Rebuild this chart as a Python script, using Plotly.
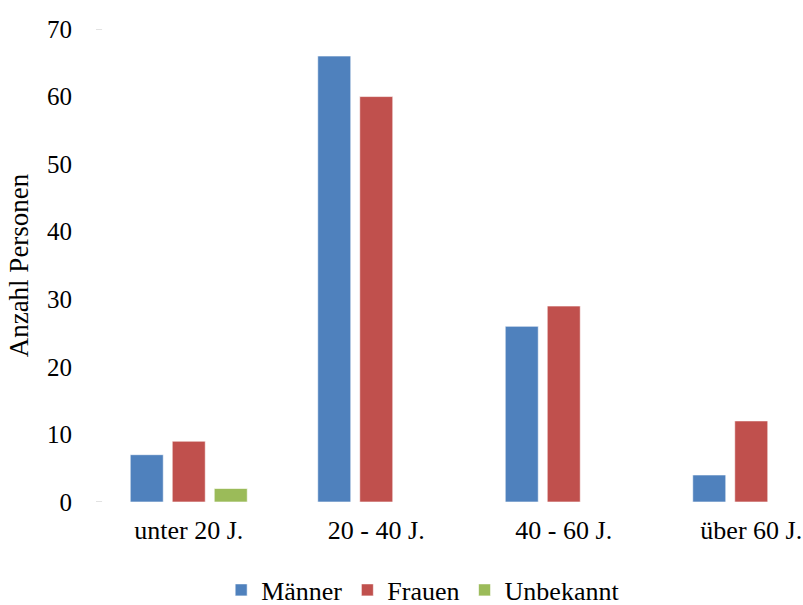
import plotly.graph_objects as go

categories = ["unter 20 J.", "20 - 40 J.", "40 - 60 J.", "über 60 J."]
maenner = [7, 66, 26, 4]
frauen = [9, 60, 29, 12]
unbekannt = [2, 0, 0, 0]

series = [
    ("Männer", maenner, "#4F81BD"),
    ("Frauen", frauen, "#C0504D"),
    ("Unbekannt", unbekannt, "#9BBB59"),
]

font_family = "Liberation Serif, Times New Roman, serif"

fig = go.Figure()
for name, vals, color in series:
    fig.add_trace(go.Bar(
        x=list(range(len(categories))), y=vals, name=name,
        marker=dict(color=color, line=dict(color="rgba(255,255,255,0.6)", width=1)),
    ))

fig.update_layout(
    width=803, height=605,
    margin=dict(l=95, r=0, t=29, b=103, autoexpand=False),
    paper_bgcolor="white", plot_bgcolor="white",
    barmode="group", bargap=0.328, bargroupgap=0.214,
    font=dict(family=font_family, size=26, color="black"),
    showlegend=True,
    legend=dict(orientation="h", x=0.4635, xanchor="center", y=-0.186, yanchor="middle",
                font=dict(size=26), itemwidth=30, traceorder="normal"),
    xaxis=dict(
        tickmode="array", tickvals=list(range(len(categories))), ticktext=categories,
        range=[-0.5, 3.276], showgrid=False, zeroline=False, showline=False,
        ticks="", ticklabelstandoff=10, tickfont=dict(size=26), automargin=False,
    ),
    yaxis=dict(
        range=[0, 70], dtick=10, showgrid=False, zeroline=False, showline=False,
        ticks="", ticklabelstandoff=22, tickfont=dict(size=25), automargin=False,
        title=dict(text="Anzahl Personen", font=dict(size=27), standoff=10),
    ),
)

# small gray marks at the ends of the value axis
for yv in (0, 70):
    fig.add_shape(type="line", xref="paper", yref="y", x0=0.0014, x1=0.01, y0=yv, y1=yv,
                  line=dict(color="#D9D9D9", width=1.5))

fig.write_html("out.html")
